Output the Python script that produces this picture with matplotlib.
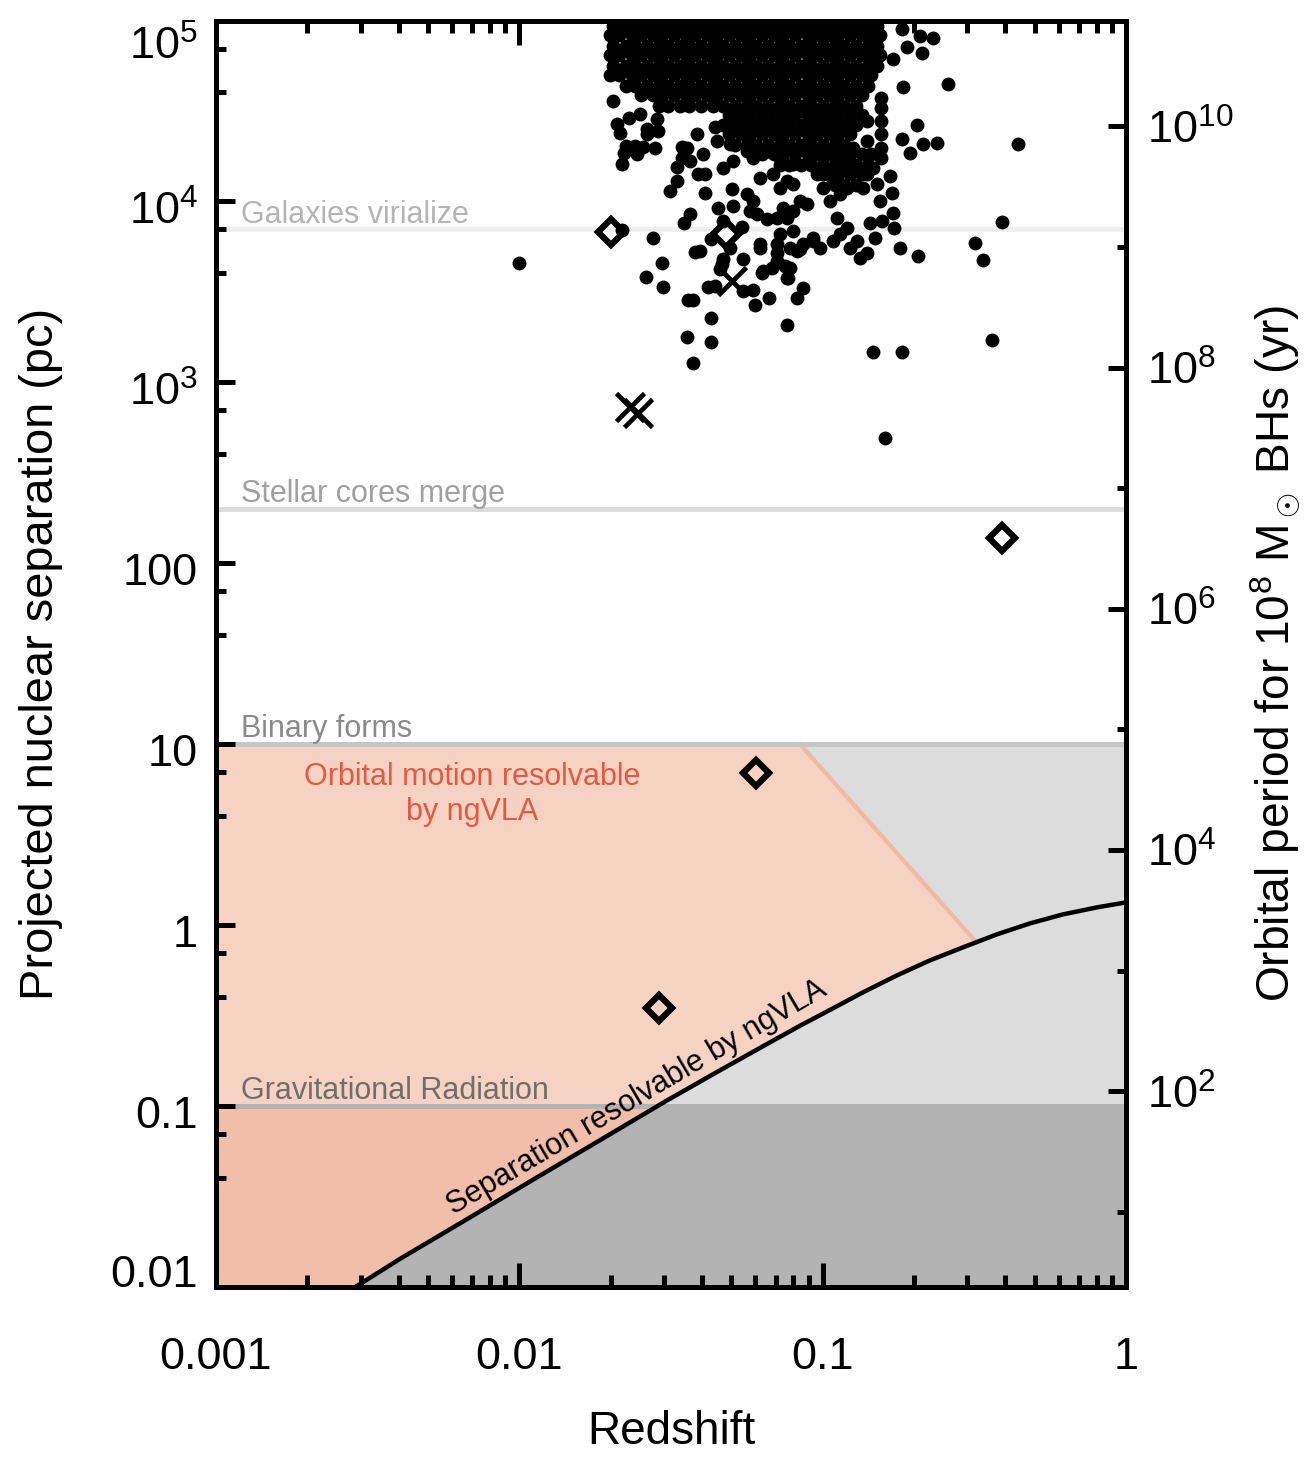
import numpy as np
import matplotlib.pyplot as plt
from matplotlib.patches import Polygon, Rectangle
from matplotlib.ticker import FixedLocator, NullFormatter
import matplotlib.transforms as mtransforms

plt.rcParams['font.family'] = ['Liberation Sans', 'DejaVu Sans']
plt.rcParams['mathtext.fontset'] = 'custom'
plt.rcParams['mathtext.rm'] = 'Liberation Sans'
plt.rcParams['mathtext.it'] = 'Liberation Sans:italic'
plt.rcParams['mathtext.bf'] = 'Liberation Sans:bold'

# ---- values ----
# resolution limit of ngVLA: separation (pc) vs redshift
curve_z = [0.00288, 0.00404, 0.00672, 0.0111, 0.01845, 0.0307, 0.0449, 0.0656,
           0.0842, 0.1057, 0.1359, 0.1759, 0.2259, 0.2903, 0.3758, 0.4830,
           0.6203, 0.8030, 1.0]
curve_a = [0.0100, 0.0143, 0.0237, 0.0392, 0.0648, 0.1075, 0.1545, 0.2205,
           0.278, 0.340, 0.4255, 0.528, 0.639, 0.754, 0.890, 1.023,
           1.147, 1.254, 1.336]
# right edge of the "orbital motion" zone
slant_z = [0.0842, 0.320]
slant_a = [10.0, 0.81]

# physical scales (pc)
scale_names = ['Galaxies virialize', 'Stellar cores merge', 'Binary forms',
               'Gravitational Radiation']
scale_a = [7000.0, 200.0, 10.0, 0.1]

# log10 P(yr) = 1.5 log10 a(pc) + period_offset, for 1e8 Msun BHs
period_offset = 3.378

# individual dual-AGN points (log10 z, log10 sep)
dots_logz = [-0.587, -0.356, -0.409, -0.498, -0.471, -0.442, -0.689, -0.738, -0.712,
             -0.669, -0.623, -0.735, -0.768, -0.722, -0.672, -0.636, -0.679, -0.738,
             -0.771, -0.768, -0.765, -0.745, -0.686, -0.827, -0.844, -0.804, -0.877,
             -0.854, -0.834, -0.738, -1.117, -0.808, -0.808, -0.808, -0.808, -0.808,
             -0.808, -0.854, -0.854, -0.778, -0.834, -0.821, -0.811, -0.794,
             -1.691, -1.678, -1.668, -1.661, -1.612, -1.619, -1.553, -1.579, -1.543,
             -1.546, -1.602, -1.559, -1.530, -1.582, -1.526, -1.480, -1.503, -1.437,
             -1.457, -1.404, -1.421, -1.427, -1.444, -1.368, -1.447, -1.368, -1.427,
             -1.464, -1.437, -1.447, -1.414, -1.355, -1.388, -1.388, -1.345, -1.295,
             -1.299, -1.249, -1.378, -1.355, -1.328, -1.338, -1.262, -1.262, -1.230,
             -1.223, -1.177, -1.084, -1.065, -1.206, -1.183, -1.216, -1.239, -1.230,
             -1.200, -1.167, -1.114, -1.124, -1.150, -1.108, -1.075, -1.141, -1.098,
             -1.117, -1.131, -1.075, -1.141, -1.098, -1.206, -1.164, -1.117, -1.032,
             -1.009, -0.966, -0.943, -0.910, -0.887, -0.920, -0.953, -0.999, -0.976,
             -0.943, -0.920, -0.999, -0.966, -0.900, -0.854, -0.867, -1.042, -1.098,
             -1.032, -0.986, -0.920, -0.900, -1.141, -1.183, -1.230, -1.295, -1.328,
             -1.249, -1.305, -1.348, -2.001, -1.661, -1.368, -1.266, -1.305, -1.328,
             -1.332, -1.150, -1.098, -1.051, -1.032, -1.084, -1.150, -1.206, -1.197,
             -1.117, -1.150, -1.108, -1.065, -1.648, -1.655, -1.592, -1.579, -1.640,
             -1.465, -1.480, -1.395, -1.410]
dots_loga = [4.648, 4.317, 3.886, 3.770, 3.676, 3.235, 4.422, 4.345, 4.267,
             4.317, 4.322, 4.632, 4.786, 4.853, 4.819, 4.902, 4.913, 4.952,
             4.046, 3.936, 3.853, 3.743, 3.698, 3.798, 3.881, 3.892, 3.687,
             3.715, 3.168, 3.168, 3.317, 4.571, 4.516, 4.444, 4.372, 4.295,
             4.240, 4.444, 4.333, 4.140, 4.184, 4.096, 4.002, 2.693,
             4.554, 4.427, 4.378, 4.206, 4.262, 4.306, 4.295, 4.372, 4.389,
             4.455, 4.483, 3.798, 3.660, 3.582, 3.527, 4.113, 4.057, 3.930,
             3.881, 3.726, 3.720, 3.455, 3.455, 3.356, 3.251, 3.224, 3.108,
             4.240, 4.223, 4.295, 4.372, 4.411, 4.151, 4.046, 3.964, 3.975,
             4.068, 4.041, 3.527, 3.533, 3.682, 3.627, 3.682, 3.505, 3.511,
             3.428, 3.467, 3.467, 3.522, 3.743, 3.903, 3.930, 3.947, 4.002,
             3.605, 3.632, 3.577, 3.643, 3.715, 3.743, 3.737, 3.820, 3.837,
             3.908, 3.964, 4.002, 4.074, 4.096, 4.129, 4.151, 4.113, 3.781,
             3.743, 3.781, 3.820, 3.743, 3.781, 3.853, 3.908, 4.074, 4.002,
             4.041, 4.074, 4.151, 4.113, 4.168, 4.151, 4.074, 4.240, 4.206,
             4.295, 4.262, 4.240, 4.295, 4.240, 4.278, 4.240, 4.223, 4.184,
             4.278, 4.317, 4.333, 3.660, 3.842, 3.792, 3.859, 3.743, 3.892,
             3.654, 3.908, 3.947, 3.986, 3.798, 3.726, 3.765, 3.765, 3.616,
             3.577, 3.671, 3.632, 3.765, 4.306, 4.267, 4.300, 4.400, 4.460,
             4.300, 4.190, 4.260, 4.150]

# the solid core of the cloud: two staggered sets of log z positions,
# and per row (log sep, set, log z from, log z to)
core_even = [-1.69, -1.65, -1.62, -1.58, -1.54, -1.51, -1.47, -1.44, -1.40, -1.36,
             -1.33, -1.29, -1.25, -1.22, -1.18, -1.14, -1.11, -1.07, -1.04, -1.00,
             -0.96, -0.93, -0.89, -0.85, -0.82]
core_odd = [-1.70, -1.67, -1.63, -1.60, -1.56, -1.53, -1.49, -1.45, -1.42, -1.38,
            -1.35, -1.31, -1.27, -1.24, -1.20, -1.16, -1.13, -1.09, -1.05, -1.02,
            -0.98, -0.95, -0.91, -0.87, -0.84, -0.81]
core_rows = [(4.97, 0, -1.70, -0.81), (4.92, 1, -1.70, -0.81), (4.86, 0, -1.70, -0.81),
             (4.81, 1, -1.70, -0.81), (4.75, 0, -1.70, -0.81), (4.70, 1, -1.70, -0.84),
             (4.64, 0, -1.65, -0.85), (4.59, 1, -1.60, -0.87), (4.53, 0, -1.54, -0.89),
             (4.48, 1, -1.31, -0.87), (4.42, 0, -1.33, -0.89), (4.37, 1, -1.31, -0.91),
             (4.31, 0, -1.29, -0.93), (4.26, 1, -1.20, -0.84), (4.20, 0, -1.14, -0.85),
             (4.15, 1, -1.02, -0.87), (4.09, 0, -0.96, -0.89)]

diam_z = [0.0201, 0.0480, 0.390, 0.0603, 0.0289]
diam_a = [6780.0, 6610.0, 138.0, 6.89, 0.347]
cross_z = [0.0503, 0.0232, 0.0246]
cross_a = [3640.0, 733.0, 679.0]

# ---- figure ----
fig = plt.figure(figsize=(13.12, 14.61), dpi=100)
ax = fig.add_axes([216 / 1312, 1 - 1287 / 1461, 910 / 1312, 1266.5 / 1461])
ax.set_xscale('log')
ax.set_yscale('log')
ax.set_xlim(1e-3, 1)
ax.set_ylim(1e-2, 1e5)

light_gray, dark_gray = '#DCDCDC', '#B3B3B3'
light_org, dark_org = '#F5D2C1', '#F1BFA9'

ax.add_patch(Rectangle((1e-3, 1e-2), 1, 10, fc=light_gray, ec='none', zorder=0))
ax.add_patch(Rectangle((1e-3, 1e-2), 1, 0.1 - 1e-2, fc=dark_gray, ec='none', zorder=0.1))

verts = [(1e-3, 10.0), (slant_z[0], slant_a[0]), (slant_z[1], slant_a[1])]
verts += [(z, a) for z, a in zip(curve_z[::-1], curve_a[::-1]) if z < slant_z[1]]
verts += [(1e-3, 1e-2)]
orange = Polygon(verts, closed=True, fc=light_org, ec='none', zorder=0.2)
ax.add_patch(orange)
deep = Rectangle((1e-3, 1e-2), 1, 0.1 - 1e-2, fc=dark_org, ec='none', zorder=0.3)
ax.add_patch(deep)
deep.set_clip_path(orange)

ax.plot(slant_z, slant_a, color='#F0B9A3', lw=3, zorder=0.5)

line_cols = ['#EEEEEE', '#DCDCDC', '#C6C6C6', '#B3B3B3']
text_cols = ['#B4B4B4', '#A0A0A0', '#8A8A8A', '#6E6E6E']
for name, a, lc, tc in zip(scale_names, scale_a, line_cols, text_cols):
    ax.axhline(a, color=lc, lw=3.6, zorder=1)
    ax.annotate(name, xy=(0.00121, a), xytext=(0, 5), textcoords='offset points',
                ha='left', va='baseline', color=tc, fontsize=22, zorder=2)

ax.plot(curve_z, curve_a, color='k', lw=3.2, zorder=3)

ax.text(0.00698, 5.27, 'Orbital motion resolvable\nby ngVLA', ha='center', va='center',
        color='#E05A45', fontsize=22, linespacing=1.25, zorder=2)
ax.text(0.0244, 0.1107, 'Separation resolvable by ngVLA', ha='center', va='center',
        rotation=30.5, rotation_mode='anchor', fontsize=22, color='k', zorder=3)

# points
core_z, core_a = [], []
for v, parity, lo, hi in core_rows:
    for u in (core_odd if parity else core_even):
        if lo - 1e-6 <= u <= hi + 1e-6:
            core_z.append(10 ** u)
            core_a.append(10 ** v)
ax.plot(core_z, core_a, 'o', color='k', ms=10, mew=0, ls='none', zorder=4)
ax.plot(10 ** np.array(dots_logz), 10 ** np.array(dots_loga), 'o', color='k', ms=10,
        mew=0, ls='none', zorder=4)
ax.plot(diam_z, diam_a, 'D', mfc='none', mec='k', ms=13, mew=4.5, ls='none', zorder=5)
ax.plot(cross_z, cross_a, 'x', color='k', ms=20, mew=3.4, ls='none', zorder=5)

# axes, ticks
for s in ax.spines.values():
    s.set_linewidth(3.6)
ax.set_xticks([1e-3, 1e-2, 1e-1, 1], ['0.001', '0.01', '0.1', '1'])
ax.xaxis.set_minor_formatter(NullFormatter())
ax.set_yticks([1e-2, 1e-1, 1, 10, 100, 1e3, 1e4, 1e5],
              ['0.01', '0.1', '1', '10', '100', r'$10^3$', r'$10^4$', r'$10^5$'])
ax.yaxis.set_minor_locator(FixedLocator([k * 10.0 ** n for n in range(-2, 5) for k in (4, 7)]))
ax.yaxis.set_minor_formatter(NullFormatter())
ax.tick_params(which='both', direction='in', width=3.6, top=True, right=False,
               labelsize=32.5)
ax.tick_params(axis='x', which='major', length=17, pad=36)
ax.tick_params(axis='x', which='minor', length=8.6)
ax.tick_params(axis='y', which='major', length=13.7, pad=13)
ax.tick_params(axis='y', which='minor', length=7.2)

ax.set_xlabel('Redshift', fontsize=33, va='center')
ax.xaxis.set_label_coords(0.5, -145 / 1266.5)
ax.set_ylabel('Projected nuclear separation (pc)', fontsize=33.8, va='center')
ax.yaxis.set_label_coords(-175 / 910, 0.5)

ax2 = ax.twinx()
ax2.set_yscale('log')
ax2.set_ylim(10 ** (period_offset - 3.0), 10 ** (period_offset + 7.5))
ax2.set_yticks([1e2, 1e4, 1e6, 1e8, 1e10],
               [r'$10^{2}$', r'$10^{4}$', r'$10^{6}$', r'$10^{8}$', r'$10^{10}$'])
ax2.yaxis.set_minor_locator(FixedLocator([1e1, 1e3, 1e5, 1e7, 1e9]))
ax2.yaxis.set_minor_formatter(NullFormatter())
for s in ax2.spines.values():
    s.set_linewidth(3.6)
ax2.tick_params(which='both', direction='in', width=3.6, labelsize=32.5)
ax2.tick_params(which='major', length=13, pad=15)
ax2.tick_params(which='minor', length=6.5)
ax2.set_ylabel(r'Orbital period for 10$^8$ M$_\odot$ BHs (yr)', fontsize=33.2, va='center')
ax2.yaxis.set_label_coords(1059 / 910, 0.5)

# left labels sit a little below their ticks; the end labels are pulled inside
ylabels = ax.get_yticklabels()
shifts = [0.16] + [-0.06] * (len(ylabels) - 2) + [-0.22]
for lbl, dy in zip(ylabels, shifts):
    lbl.set_transform(lbl.get_transform() +
                      mtransforms.ScaledTranslation(0, dy, fig.dpi_scale_trans))

fig.savefig('out.png', dpi=100, facecolor='white')
